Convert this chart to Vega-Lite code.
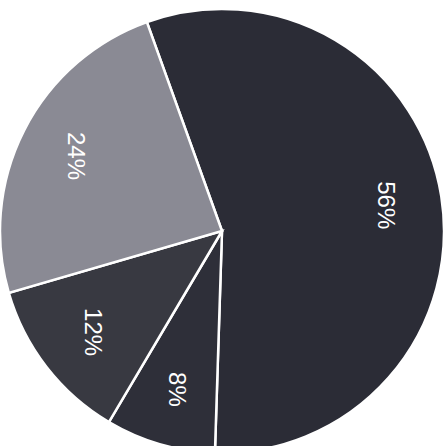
{
  "$schema": "https://vega.github.io/schema/vega-lite/v6.json",
  "autosize": "none",
  "width": 444,
  "height": 462,
  "padding": 0,
  "background": "white",
  "view": {"stroke": null},
  "data": {"values": [
    {"label": "56%", "value": 56, "order": 1},
    {"label": "8%", "value": 8, "order": 2},
    {"label": "12%", "value": 12, "order": 3},
    {"label": "24%", "value": 24, "order": 4}
  ]},
  "encoding": {
    "theta": {"field": "value", "type": "quantitative", "stack": true, "scale": {"range": [-0.345, 5.938]}},
    "order": {"field": "order", "type": "quantitative"}
  },
  "layer": [
    {
      "mark": {"type": "arc", "outerRadius": 222, "stroke": "white", "strokeWidth": 2.5},
      "encoding": {
        "color": {"field": "label", "type": "nominal", "legend": null,
          "scale": {"domain": ["56%", "8%", "12%", "24%"], "range": ["#2b2c36", "#2e2f39", "#383941", "#8a8a94"]}}
      }
    },
    {
      "mark": {"type": "text", "radius": 165, "angle": 90, "fontSize": 24, "font": "Liberation Sans", "color": "white", "align": "center", "baseline": "middle"},
      "encoding": {"text": {"field": "label", "type": "nominal"}}
    }
  ]
}
